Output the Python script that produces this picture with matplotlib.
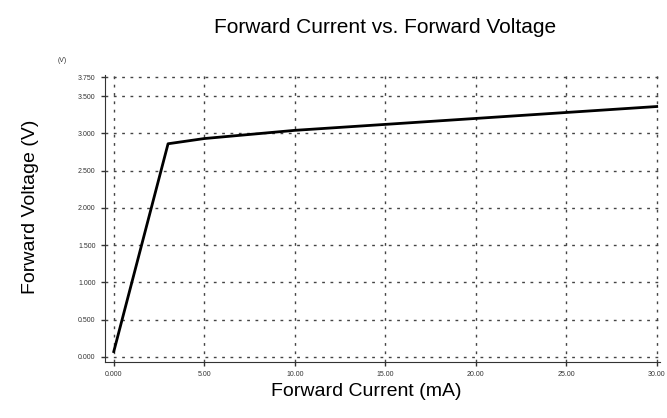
import matplotlib.pyplot as plt

# forward current (mA) vs forward voltage (V)
current = [0.0, 3.0, 5.0, 10.0, 15.0, 20.0, 25.0, 30.0]
voltage = [0.07, 2.86, 2.93, 3.04, 3.12, 3.20, 3.28, 3.36]

xticks = [0, 5, 10, 15, 20, 25, 30]
xtick_labels = ["0.000", "5.00", "10.00", "15.00", "20.00", "25.00", "30.00"]
yticks = [0.0, 0.5, 1.0, 1.5, 2.0, 2.5, 3.0, 3.5, 3.75]
ytick_labels = ["0.000", "0.500", "1.000", "1.500", "2.000", "2.500", "3.000", "3.500", "3.750"]

font = ["Liberation Sans Narrow", "Liberation Sans", "DejaVu Sans"]
plt.rcParams['font.family'] = font

fig = plt.figure(figsize=(6.67, 4.18), dpi=100)
ax = fig.add_axes([0.157, 0.134, 0.833, 0.686])

ax.plot(current, voltage, color="black", lw=2)

ax.set_xlim(-0.5, 30.2)
ax.set_ylim(-0.07, 3.78)
ax.set_xticks(xticks)
ax.set_xticklabels(xtick_labels)
ax.set_yticks(yticks)
ax.set_yticklabels(ytick_labels)
ax.tick_params(labelsize=5, length=3, width=1, colors="#333333")

ax.grid(True, color="#444444", linestyle=(0, (2, 4)), linewidth=1)
for s in ["top", "right"]:
    ax.spines[s].set_visible(False)
for s in ["left", "bottom"]:
    ax.spines[s].set_color("#333333")

ax.text(-0.085, 1.045, "(V)", transform=ax.transAxes, fontsize=5, color="#333333")

fig.text(0.577, 0.935, "Forward Current vs. Forward Voltage", ha="center",
         va="center", fontsize=15)
ax.set_xlabel("Forward Current (mA)", fontsize=14)
ax.set_ylabel("Forward Voltage (V)", fontsize=14)
ax.xaxis.set_label_coords(0.47, -0.075)
ax.yaxis.set_label_coords(-0.118, 0.54)

fig.savefig("out.png", dpi=100, facecolor="white")
